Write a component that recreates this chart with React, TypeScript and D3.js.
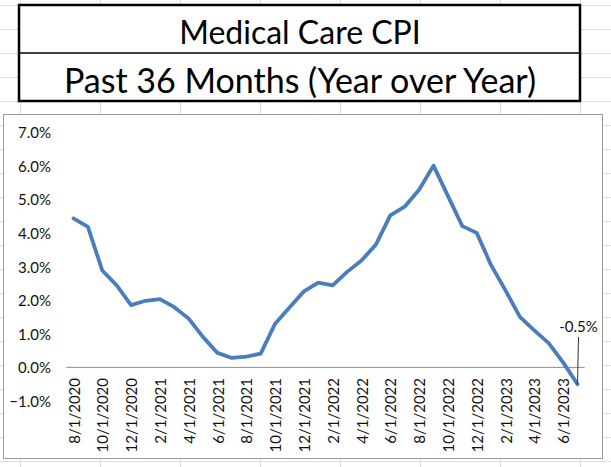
import React from "react";
import * as d3 from "d3";

const months: string[] = [
  "8/1/2020","9/1/2020","10/1/2020","11/1/2020","12/1/2020","1/1/2021","2/1/2021","3/1/2021",
  "4/1/2021","5/1/2021","6/1/2021","7/1/2021","8/1/2021","9/1/2021","10/1/2021","11/1/2021",
  "12/1/2021","1/1/2022","2/1/2022","3/1/2022","4/1/2022","5/1/2022","6/1/2022","7/1/2022",
  "8/1/2022","9/1/2022","10/1/2022","11/1/2022","12/1/2022","1/1/2023","2/1/2023","3/1/2023",
  "4/1/2023","5/1/2023","6/1/2023","7/1/2023",
];
const cpiYoY: number[] = [
  4.43, 4.18, 2.88, 2.44, 1.85, 1.98, 2.03, 1.79,
  1.45, 0.9, 0.43, 0.28, 0.32, 0.41, 1.3, 1.78,
  2.26, 2.52, 2.44, 2.84, 3.18, 3.65, 4.52, 4.78,
  5.28, 6.0, 5.1, 4.2, 4.0, 3.04, 2.29, 1.5,
  1.1, 0.72, 0.15, -0.5,
];
const yTicks: number[] = [-1, 0, 1, 2, 3, 4, 5, 6, 7];
const titleLine1 = "Medical Care CPI";
const titleLine2 = "Past 36 Months (Year over Year)";
const lastLabel = "-0.5%";

const W = 611;
const H = 467;
const FONT = "Lato, 'Noto Sans', sans-serif";

export default function App() {
  const x = d3.scalePoint<string>().domain(months).range([66.3, 584.7]).padding(0.5);
  const y = d3.scaleLinear().domain([-1, 7]).range([401, 132]);
  const line = d3
    .line<number>()
    .x((_, i) => x(months[i]) as number)
    .y((d) => y(d));

  const colLines = d3.range(20, W, 80);
  const rowLines = d3.range(5, H, 24);
  const fmt = d3.format(".1f");
  const lastX = x(months[months.length - 1]) as number;
  const lastY = y(cpiYoY[cpiYoY.length - 1]);

  return (
    <svg
      width={W}
      height={H}
      style={{ position: "absolute", left: 0, top: 0, background: "#fff" }}
      fontFamily={FONT}
    >
      {/* spreadsheet gridlines */}
      {colLines.map((c) => (
        <line key={"c" + c} x1={c + 0.5} x2={c + 0.5} y1={0} y2={H} stroke="#dcdcdc" strokeWidth={1} />
      ))}
      {rowLines.map((r) => (
        <line key={"r" + r} x1={0} x2={W} y1={r + 0.5} y2={r + 0.5} stroke="#dcdcdc" strokeWidth={1} />
      ))}

      {/* title cells */}
      <rect x={19} y={5} width={561} height={96} fill="#fff" stroke="#000" strokeWidth={2.5} />
      <line x1={19} x2={580} y1={53} y2={53} stroke="#000" strokeWidth={1.5} />
      <text x={300} y={31} textAnchor="middle" dominantBaseline="central" fontSize={32} fill="#000">
        {titleLine1}
      </text>
      <text x={300} y={79} textAnchor="middle" dominantBaseline="central" fontSize={34} fill="#000">
        {titleLine2}
      </text>

      {/* chart area */}
      <rect x={3.5} y={114.5} width={599} height={344} fill="#fff" stroke="#999" strokeWidth={1} />

      {/* zero axis line */}
      <line x1={66.3} x2={584.7} y1={y(0)} y2={y(0)} stroke="#8c8c8c" strokeWidth={1} />

      {/* y tick labels */}
      {yTicks.map((t) => (
        <text key={t} x={51} y={y(t)} textAnchor="end" dominantBaseline="central" fontSize={15} fill="#111">
          {fmt(t) + "%"}
        </text>
      ))}

      {/* x tick labels */}
      {months.map((m, i) =>
        i % 2 === 0 ? (
          <text
            key={m}
            transform={`translate(${x(m)},378) rotate(-90)`}
            textAnchor="end"
            dominantBaseline="central"
            fontSize={15}
            fill="#111"
          >
            {m}
          </text>
        ) : null
      )}

      {/* series */}
      <path d={line(cpiYoY) || ""} fill="none" stroke="#4A7EBB" strokeWidth={3.8} strokeLinejoin="round" strokeLinecap="round" />

      {/* data label with leader line */}
      <line x1={lastX + 1} x2={lastX} y1={337} y2={lastY} stroke="#333" strokeWidth={1} />
      <text x={lastX + 1} y={326} textAnchor="middle" dominantBaseline="central" fontSize={15} fill="#111">
        {lastLabel}
      </text>
    </svg>
  );
}
